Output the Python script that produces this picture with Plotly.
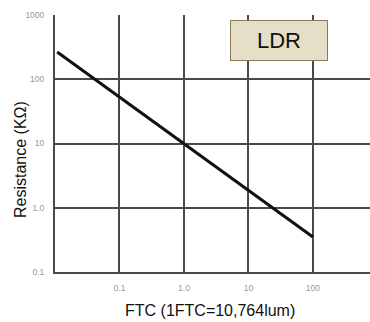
import plotly.graph_objects as go

# Data (LDR resistance vs illumination)
ftc = [0.0108, 1.0, 100.0]
resistance_kohm = [266.0, 10.0, 0.35]

x_tickvals = [0.01, 0.1, 1, 10, 100]
x_ticktext = ["", "0.1", "1.0", "10", "100"]
y_tickvals = [0.1, 1, 10, 100, 1000]
y_ticktext = ["0.1", "1.0", "10", "100", "1000"]

x_title = "FTC (1FTC=10,764lum)"
y_title = "Resistance (KΩ)"
box_label = "LDR"

grid_color = "#4a4a4a"
tick_color = "#999999"

fig = go.Figure()
fig.add_trace(go.Scatter(
    x=ftc, y=resistance_kohm, mode="lines",
    line=dict(color="#111111", width=3),
    showlegend=False, hoverinfo="skip"))

fig.update_layout(
    width=370, height=322,
    margin=dict(l=55, r=0, t=15, b=50),
    paper_bgcolor="white", plot_bgcolor="white",
    font=dict(family="Liberation Sans, Arial, sans-serif", color="#111111"),
    xaxis=dict(
        type="log", range=[-2, 2.885],
        tickvals=x_tickvals, ticktext=x_ticktext,
        showgrid=True, gridcolor=grid_color, gridwidth=2,
        showline=True, linecolor=grid_color, linewidth=2,
        zeroline=False, ticks="", ticklabelstandoff=7,
        tickfont=dict(size=8.5, color=tick_color),
    ),
    yaxis=dict(
        type="log", range=[-1, 3],
        tickvals=y_tickvals, ticktext=y_ticktext,
        showgrid=True, gridcolor=grid_color, gridwidth=2,
        showline=True, linecolor=grid_color, linewidth=2,
        zeroline=False, ticks="", ticklabelstandoff=7,
        tickfont=dict(size=8.5, color=tick_color),
    ),
    annotations=[
        dict(text=box_label, xref="paper", yref="paper", x=0.711, y=0.899,
             xanchor="center", yanchor="middle", showarrow=False,
             font=dict(size=22, color="#111111"),
             bgcolor="#E6DFC8", bordercolor="#8a7a5a", borderwidth=1,
             width=88, height=31, borderpad=4),
        dict(text=x_title, xref="paper", yref="paper", x=(210 - 55) / 315, y=(272 - 310) / 257,
             xanchor="center", yanchor="middle", showarrow=False,
             font=dict(size=16, color="#111111")),
        dict(text=y_title, xref="paper", yref="paper", x=(20 - 55) / 315, y=(272 - 160) / 257,
             xanchor="center", yanchor="middle", showarrow=False, textangle=-90,
             font=dict(size=16, color="#111111")),
    ],
)

fig.write_html("out.html", config={"displayModeBar": False},
               post_script="document.body.style.margin='0';document.body.style.overflow='hidden';")
